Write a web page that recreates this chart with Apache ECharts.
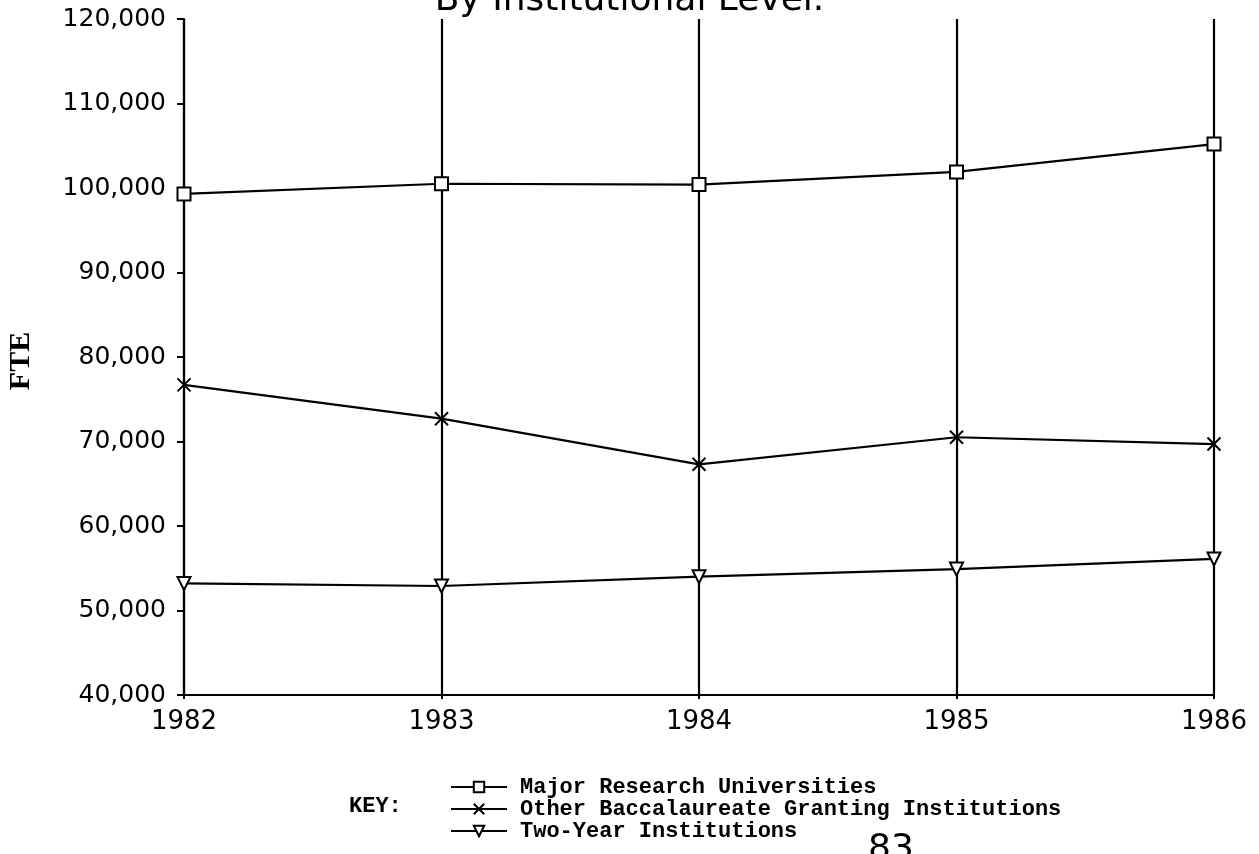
<!DOCTYPE html>
<html>
<head>
<meta charset="utf-8">
<script src="https://cdn.jsdelivr.net/npm/echarts@6/dist/echarts.min.js"></script>
<style>html,body{margin:0;padding:0;background:#fff;}#c{width:1259px;height:854px;}</style>
</head>
<body>
<div id="c"></div>
<script>
var years = ['1982', '1983', '1984', '1985', '1986'];
var majorResearch = [99300, 100500, 100400, 101900, 105200];
var otherBacc = [76700, 72700, 67300, 70500, 69700];
var twoYear = [53200, 52900, 54000, 54900, 56100];
var seriesNames = ['Major Research Universities', 'Other Baccalaureate Granting Institutions', 'Two-Year Institutions'];
var titleText = 'By Institutional Level.';
var yName = 'FTE';

var chart = echarts.init(document.getElementById('c'));
var lineBase = {
  type: 'line',
  symbolSize: 13,
  lineStyle: { color: '#000', width: 2.2 },
  itemStyle: { color: '#fff', borderColor: '#000', borderWidth: 2 },
  emphasis: { disabled: true },
  animation: false
};
chart.setOption({
  backgroundColor: '#fff',
  animation: false,
  title: {
    text: titleText, left: 'center', top: -22,
    textStyle: { fontFamily: 'DejaVu Sans', fontSize: 36, fontWeight: 'normal', color: '#000' }
  },
  grid: { left: 184, right: 45, top: 19, bottom: 159, outerBoundsMode: 'none', containLabel: false },
  xAxis: {
    type: 'category', data: years, boundaryGap: false,
    axisLine: { lineStyle: { color: '#000', width: 2 } },
    axisTick: { show: true, length: 4, lineStyle: { color: '#000', width: 2 } },
    axisLabel: { color: '#000', fontFamily: 'DejaVu Sans', fontSize: 26, margin: 14 },
    splitLine: { show: true, lineStyle: { color: '#000', width: 2.2 } }
  },
  yAxis: {
    type: 'value', min: 40000, max: 120000, interval: 10000,
    axisLine: { show: true, lineStyle: { color: '#000', width: 2.2 } },
    axisTick: { show: true, length: 7, lineStyle: { color: '#000', width: 2 } },
    axisLabel: { color: '#000', fontFamily: 'DejaVu Sans', fontSize: 25, margin: 18,
      formatter: function (v) { return v.toLocaleString('en-US'); } },
    splitLine: { show: false }
  },
  legend: {
    orient: 'vertical', left: 445, top: 771, itemGap: 0,
    itemWidth: 56, itemHeight: 13,
    data: seriesNames,
    textStyle: { fontFamily: 'Liberation Mono', fontSize: 22, fontWeight: 'bold', color: '#000', lineHeight: 22, padding: [0, 0, 0, 8] }
  },
  graphic: [
    { type: 'text', left: 349, top: 795, style: { text: 'KEY:', fontFamily: 'Liberation Mono', fontSize: 22, fontWeight: 'bold', fill: '#000' } },
    { type: 'text', left: 868, top: 832, style: { text: '83', fontFamily: 'DejaVu Sans', fontSize: 36, fill: '#000' } },
    { type: 'text', x: 21, y: 361, rotation: Math.PI / 2, style: { text: yName, align: 'center', verticalAlign: 'middle', fontFamily: 'Liberation Serif', fontWeight: 'bold', fontSize: 30, fill: '#000' } }
  ],
  series: [
    Object.assign({}, lineBase, { name: seriesNames[0], data: majorResearch, symbol: 'rect' }),
    Object.assign({}, lineBase, { name: seriesNames[1], data: otherBacc, symbol: 'path://M0 0L10 10M10 0L0 10' }),
    Object.assign({}, lineBase, { name: seriesNames[2], data: twoYear, symbol: 'triangle', symbolRotate: 180 })
  ]
});
</script>
</body>
</html>
